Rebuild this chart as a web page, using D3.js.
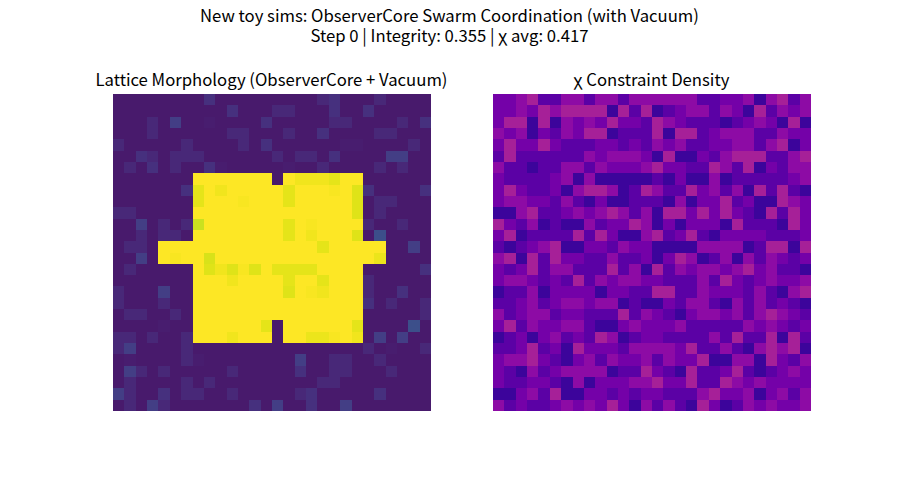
<!DOCTYPE html>
<html><head><meta charset="utf-8">
<script src="https://cdn.jsdelivr.net/npm/d3@7"></script>
<style>html,body{margin:0;padding:0;background:#fff}svg{display:block}text{font-family:"Noto Sans CJK SC","Noto Sans",sans-serif;fill:#000}</style>
</head><body><div id="c"></div>
<script>
const titleLines=["New toy sims: ObserverCore Swarm Coordination (with Vacuum)","Step 0 | Integrity: 0.355 | χ avg: 0.417"];
const leftTitle="Lattice Morphology (ObserverCore + Vacuum)";
const rightTitle="χ Constraint Density";
const latticeRows=[
[7,7,7,7,7,7,7,7,14,7,7,7,7,7,7,7,7,7,11,14,7,7,7,11,7,7,7,7],
[7,7,7,7,7,7,7,7,7,7,14,7,7,7,11,11,7,7,7,14,7,7,14,7,7,7,7,7],
[7,7,7,11,7,18,7,7,8,7,7,7,7,14,7,7,7,7,7,11,11,7,7,7,7,11,7,14],
[7,7,7,11,7,7,7,7,7,7,11,11,7,7,7,11,7,7,14,7,7,7,7,11,11,7,7,7],
[11,7,7,7,7,7,11,7,7,7,7,11,7,14,7,7,7,7,7,7,8,8,7,7,7,7,11,7],
[7,7,14,11,7,11,11,11,7,7,7,7,7,7,11,7,11,11,7,14,7,7,7,7,18,18,7,7],
[7,11,7,14,7,11,7,7,14,8,7,7,7,7,7,8,7,7,11,7,7,7,7,11,7,11,7,7],
[7,7,7,7,7,7,7,100,100,100,100,100,100,100,7,100,98,98,98,96,100,100,7,7,7,7,7,7],
[7,7,7,7,7,7,14,96,100,98,100,100,100,100,100,96,100,100,100,99,100,95,14,7,7,7,7,14],
[7,7,7,7,7,7,7,96,100,100,100,99,100,100,100,96,100,100,100,100,100,95,7,11,11,7,7,7],
[11,11,7,7,7,7,7,100,100,100,100,100,100,100,100,100,100,100,100,100,100,95,7,11,7,7,7,7],
[7,7,18,7,11,7,11,92,100,100,100,100,100,100,100,96,100,99,100,100,100,100,11,7,7,11,7,7],
[7,7,11,7,11,11,7,100,100,100,100,100,100,100,100,96,100,98,100,100,100,95,7,24,7,7,7,7],
[7,11,11,7,100,100,100,100,100,100,100,100,100,100,100,100,100,100,96,100,100,100,100,100,7,7,18,7],
[7,7,18,7,100,99,100,100,94,100,100,100,100,100,100,100,100,100,100,100,100,100,100,97,7,7,7,7],
[7,11,7,7,7,7,7,100,95,98,95,99,95,100,96,96,96,96,100,100,100,100,7,7,7,7,7,14],
[7,7,7,7,7,7,7,100,100,100,98,100,100,100,100,96,100,100,96,100,100,100,11,7,7,7,7,7],
[11,7,7,7,18,7,7,100,100,100,100,100,100,100,100,95,100,99,98,100,100,100,11,7,7,14,7,7],
[11,7,7,7,11,7,7,100,100,100,100,100,100,100,100,100,100,100,100,100,100,100,14,7,11,7,7,11],
[7,11,11,7,7,11,7,100,100,100,100,100,100,100,100,100,100,100,100,100,100,100,7,7,7,7,7,11],
[7,7,7,7,8,7,7,100,100,100,100,100,100,96,7,100,100,100,100,100,100,96,7,7,7,7,24,7],
[11,11,7,11,7,7,11,100,100,100,98,100,100,100,7,100,100,97,97,99,100,98,7,18,7,18,7,7],
[11,18,7,7,7,7,11,7,7,7,7,7,7,7,7,7,7,7,7,7,7,7,11,7,8,7,7,11],
[7,8,7,7,7,7,11,8,7,7,7,7,7,7,7,7,18,7,7,11,11,7,7,11,7,7,7,7],
[7,18,11,7,11,7,7,7,7,7,11,7,7,7,7,7,14,7,7,11,11,7,7,7,11,7,7,7],
[7,11,7,7,7,7,11,7,11,7,7,7,7,7,7,7,7,7,11,11,7,7,7,7,7,7,7,7],
[18,11,7,7,14,7,11,11,7,7,11,7,7,7,7,7,11,14,7,7,7,7,7,14,7,7,7,7],
[7,11,7,18,11,7,7,7,7,7,7,7,14,7,18,7,7,14,7,7,18,7,7,7,7,7,7,7]
];
const chiRows=[
[23,23,29,36,17,17,29,29,17,29,29,17,29,29,29,29,29,29,17,17,23,23,29,10,29,36,17,29],
[23,23,29,23,36,29,36,36,36,36,10,36,17,36,10,17,23,29,29,17,29,23,10,36,17,29,23,29],
[23,36,36,10,36,10,29,23,29,23,36,23,23,17,36,29,23,17,17,17,10,17,23,29,23,10,36,10],
[29,23,29,10,23,17,29,23,36,36,10,17,17,17,36,10,36,36,17,23,29,29,29,17,17,29,23,23],
[23,36,23,23,36,23,17,17,17,23,23,17,23,17,29,23,29,17,17,23,23,29,29,17,29,36,10,23],
[17,36,17,17,17,17,17,17,29,23,29,29,29,23,10,36,10,10,23,17,29,36,36,36,17,17,29,36],
[29,17,17,10,17,17,29,29,17,29,23,23,23,29,36,23,23,17,17,36,29,17,36,10,23,17,29,29],
[23,17,17,17,17,23,29,10,29,10,10,10,10,10,17,10,23,10,10,29,10,17,17,17,17,17,23,29],
[23,36,23,17,17,23,10,29,36,36,29,10,17,36,29,17,17,36,23,29,17,29,10,36,17,36,17,10],
[23,29,29,23,23,17,29,17,10,23,10,10,17,17,17,10,29,10,23,23,36,17,23,10,10,36,29,23],
[10,10,29,36,17,17,23,29,23,29,36,29,17,29,10,36,36,23,36,23,36,23,17,10,36,17,36,23],
[36,23,17,29,10,17,10,10,29,17,23,23,36,29,10,23,10,23,23,23,10,36,17,17,17,10,36,23],
[23,36,10,17,17,17,17,36,17,36,23,10,10,29,36,17,23,36,17,10,23,23,23,23,17,17,17,23],
[17,10,17,23,29,36,10,10,23,23,17,29,23,23,10,10,10,10,29,29,29,29,10,17,36,36,10,36],
[29,36,10,36,17,36,23,23,17,17,29,17,17,23,10,23,36,29,10,17,29,10,29,17,29,23,17,23],
[23,17,23,36,17,29,29,17,17,17,36,17,29,10,36,17,29,23,29,29,23,29,36,23,29,17,17,10],
[23,29,29,23,17,23,17,36,17,29,23,29,29,23,23,17,17,17,29,17,36,23,17,23,29,23,23,29],
[10,17,17,29,10,23,23,23,23,10,23,23,17,17,36,36,17,17,29,23,23,23,17,29,17,10,29,36],
[17,17,23,29,17,23,29,29,23,29,29,10,17,10,10,23,17,29,29,17,10,29,17,29,17,23,17,10],
[29,17,23,29,29,17,23,23,17,17,17,36,17,29,23,17,10,23,29,29,23,29,17,29,36,29,23,17],
[23,36,17,29,23,23,29,29,17,10,10,23,29,23,23,23,29,17,17,17,17,17,29,23,29,23,17,23],
[10,17,23,10,23,29,17,23,17,36,29,10,17,23,23,17,17,17,17,29,17,36,17,17,36,10,36,17],
[17,17,23,36,17,23,10,36,23,23,23,17,29,29,29,29,23,36,17,17,29,17,10,29,36,29,36,10],
[23,29,29,36,23,17,10,23,29,17,29,23,23,29,17,29,23,23,36,10,10,29,29,10,36,23,17,29],
[23,17,10,29,17,23,29,29,29,29,10,17,17,36,23,17,10,36,17,17,23,36,17,10,17,23,29,23],
[23,17,17,23,23,17,10,29,10,23,23,23,29,29,36,23,23,36,17,17,36,29,23,29,23,23,23,23],
[10,10,23,29,17,36,10,10,23,23,17,23,17,23,23,17,17,17,29,36,23,23,29,10,23,29,17,29],
[29,17,23,17,17,23,29,23,29,23,36,23,10,29,17,29,17,10,36,23,10,17,29,23,29,23,23,29]
];
const latticeColor=d3.scaleSequential(d3.interpolateViridis).domain([0,100]);
const chiColor=d3.scaleSequential(d3.interpolatePlasma).domain([2,95]);
const n=latticeRows.length, idx=d3.range(n);
const svg=d3.select("#c").append("svg").attr("width",900).attr("height",500);
const yScale=d3.scaleBand().domain(idx).range([94,411]);
function panel(rows,color,x0,x1,title){
  const xScale=d3.scaleBand().domain(idx).range([x0,x1]);
  const g=svg.append("g").attr("shape-rendering","crispEdges");
  rows.forEach((row,r)=>{
    g.selectAll(null).data(row).join("rect")
      .attr("x",(d,c)=>xScale(c)).attr("y",yScale(r))
      .attr("width",xScale.bandwidth()).attr("height",yScale.bandwidth())
      .attr("fill",d=>color(d));
  });
  svg.append("text").attr("x",(x0+x1)/2-0.5).attr("y",86).attr("text-anchor","middle").attr("font-size",16.7).text(title);
}
panel(latticeRows,latticeColor,113,431,leftTitle);
panel(chiRows,chiColor,493,811,rightTitle);
const head=svg.append("text").attr("text-anchor","middle").attr("font-size",16.7);
head.selectAll("tspan").data(titleLines).join("tspan")
  .attr("x",449.5).attr("y",(d,i)=>22+i*20).text(d=>d);
</script></body></html>
